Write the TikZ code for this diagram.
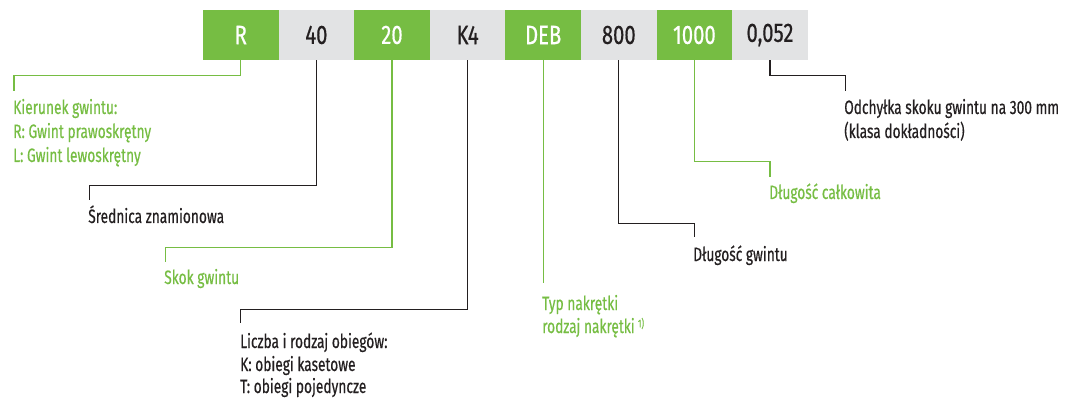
\documentclass[tikz,border=0pt]{standalone}
\usepackage{fontspec}
\setmainfont{Fira Sans}[FakeStretch=0.71, FakeBold=0.5]
\newfontfamily\cellfont{Fira Sans}[FakeStretch=0.76, FakeBold=0.5]
\definecolor{lgreen}{RGB}{118,189,67}
\definecolor{lgray}{RGB}{226,227,228}
\definecolor{ink}{RGB}{35,31,32}
\tikzset{
 cell/.style={minimum width=56.7pt, minimum height=37.5pt, inner sep=0pt, font=\cellfont\fontsize{20}{24}\selectfont},
 gcell/.style={cell, fill=lgreen, text=white},
 ycell/.style={cell, fill=lgray, text=ink},
 lab/.style={anchor=base west, inner sep=0pt, font=\fontsize{14.5}{17}\selectfont},
 glab/.style={lab, text=lgreen},
 klab/.style={lab, text=ink},
 gwire/.style={draw=lgreen, line width=1pt},
 kwire/.style={draw=ink, line width=1pt},
}
\begin{document}
\begin{tikzpicture}[x=0.75pt,y=-0.75pt]
\useasboundingbox (0,0) rectangle (1067,399);
% code boxes
\node[gcell] (b1) at (240.8,35) {R};
\node[ycell] (b2) at (316.4,35) {40};
\node[gcell] (b3) at (392.0,35) {20};
\node[ycell] (b4) at (467.6,35) {K4};
\node[gcell] (b5) at (543.2,35) {DEB};
\node[ycell] (b6) at (618.8,35) {800};
\node[gcell] (b7) at (694.4,35) {1000};
\node[ycell] (b8) at (770.0,35) {0,052};
% connector ends
\coordinate (e1) at (14,91);
\coordinate (e2) at (89.6,200);
\coordinate (e3) at (165.2,262);
\coordinate (e4) at (240.8,323);
\coordinate (e5) at (543.2,283);
\coordinate (e6) at (694.4,237);
\coordinate (e7) at (770.0,177);
\coordinate (e8) at (845.6,91);
% connectors
\draw[gwire] (b1.south) -- ++(0,15) -| (e1);
\draw[kwire] (b2.south) -- ++(0,125) -| (e2);
\draw[gwire] (b3.south) -- ++(0,187) -| (e3);
\draw[kwire] (b4.south) -- ++(0,249) -| (e4);
\draw[gwire] (b5.south) -- (e5);
\draw[kwire] (b6.south) -- ++(0,163) -| (e6);
\draw[gwire] (b7.south) -- ++(0,101) -| (e7);
\draw[kwire] (b8.south) -- ++(0,15) -| (e8);
% labels
\node[glab] (k1) at (13,114) {Kierunek gwintu:};
\node[glab] (k2) at (13,138) {R: Gwint prawoskrętny};
\node[glab] (k3) at (13,162) {L: Gwint lewoskrętny};
\node[klab] (s1) at (88,223) {Średnica znamionowa};
\node[glab] (g1) at (164,284) {Skok gwintu};
\node[klab] (l1) at (240,348) {Liczba i rodzaj obiegów:};
\node[klab] (l2) at (240,371) {K: obiegi kasetowe};
\node[klab] (l3) at (240,393) {T: obiegi pojedyncze};
\node[glab] (t1) at (542,310) {Typ nakrętki};
\node[glab] (t2) at (542,333) {rodzaj nakrętki\,\raisebox{0.55ex}{\fontsize{8.5}{10}\selectfont 1)}};
\node[klab] (d1) at (693,261) {Długość gwintu};
\node[glab] (c1) at (769,199) {Długość całkowita};
\node[klab] (o1) at (844,114) {Odchyłka skoku gwintu na 300 mm};
\node[klab] (o2) at (844,138) {(klasa dokładności)};
\end{tikzpicture}
\end{document}
